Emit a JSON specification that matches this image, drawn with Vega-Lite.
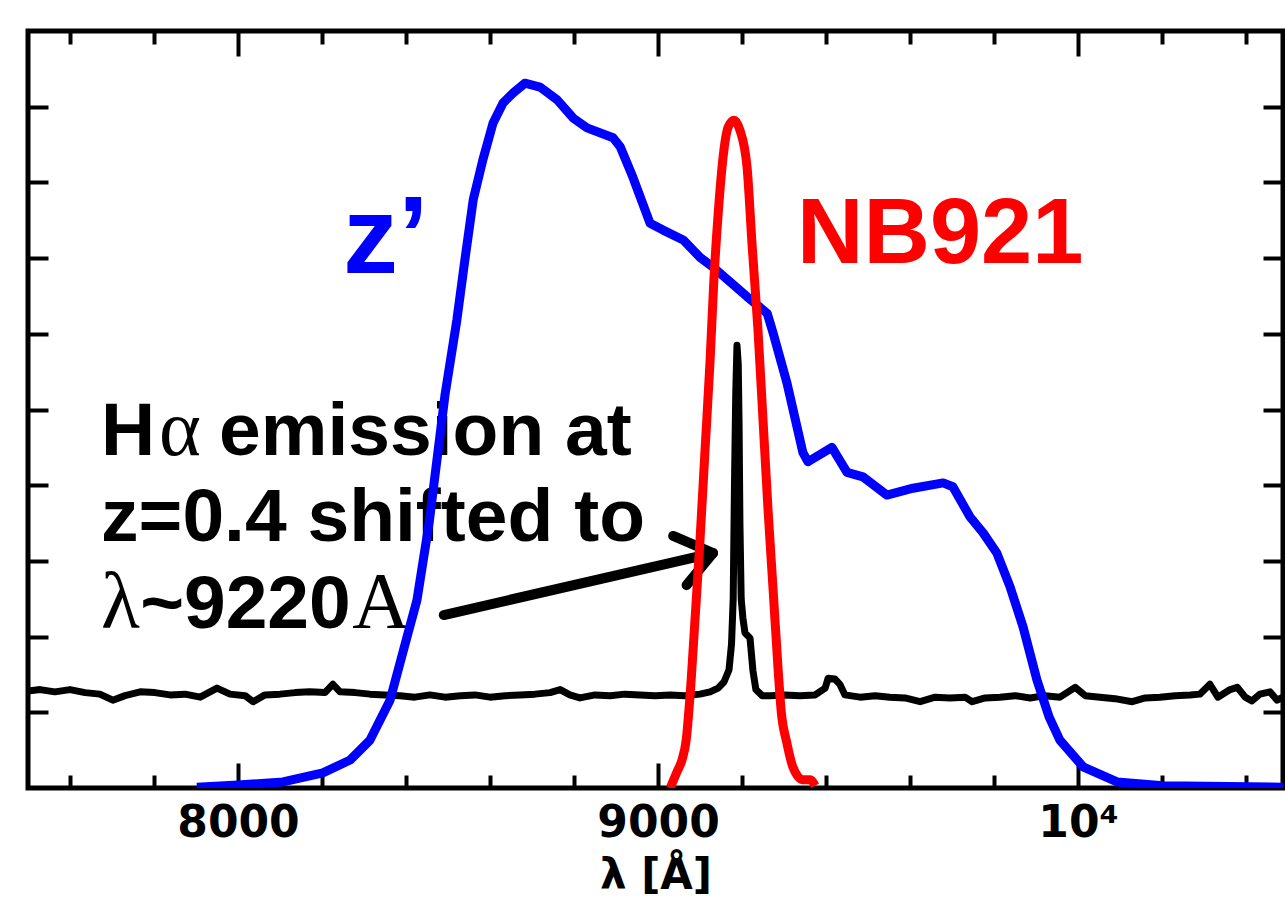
{
  "$schema": "https://vega.github.io/schema/vega-lite/v6.json",
  "width": 1255,
  "height": 757,
  "autosize": {"type": "none"},
  "padding": {"left": 28, "top": 31, "right": 2, "bottom": 112},
  "background": "white",
  "config": {
    "view": {"stroke": "black", "strokeWidth": 5},
    "axis": {"grid": false, "domain": false, "tickColor": "black", "tickWidth": 4, "labelColor": "black", "titleColor": "black"}
  },
  "datasets": {
    "spectrum": [
      {"wl": 7500, "f": 1.28}, {"wl": 7529, "f": 1.30}, {"wl": 7564, "f": 1.27}, {"wl": 7600, "f": 1.30},
      {"wl": 7636, "f": 1.26}, {"wl": 7671, "f": 1.24}, {"wl": 7702, "f": 1.16}, {"wl": 7731, "f": 1.22},
      {"wl": 7767, "f": 1.27}, {"wl": 7802, "f": 1.26}, {"wl": 7838, "f": 1.23}, {"wl": 7874, "f": 1.24},
      {"wl": 7910, "f": 1.20}, {"wl": 7950, "f": 1.32}, {"wl": 7981, "f": 1.24}, {"wl": 8017, "f": 1.22},
      {"wl": 8036, "f": 1.14}, {"wl": 8064, "f": 1.23}, {"wl": 8100, "f": 1.24}, {"wl": 8136, "f": 1.26},
      {"wl": 8171, "f": 1.27}, {"wl": 8207, "f": 1.26}, {"wl": 8226, "f": 1.37}, {"wl": 8243, "f": 1.27},
      {"wl": 8279, "f": 1.26}, {"wl": 8314, "f": 1.24}, {"wl": 8350, "f": 1.23}, {"wl": 8386, "f": 1.22},
      {"wl": 8421, "f": 1.20}, {"wl": 8457, "f": 1.23}, {"wl": 8493, "f": 1.20}, {"wl": 8529, "f": 1.22},
      {"wl": 8564, "f": 1.23}, {"wl": 8600, "f": 1.20}, {"wl": 8636, "f": 1.22}, {"wl": 8671, "f": 1.23},
      {"wl": 8707, "f": 1.24}, {"wl": 8743, "f": 1.26}, {"wl": 8767, "f": 1.30}, {"wl": 8790, "f": 1.23},
      {"wl": 8814, "f": 1.19}, {"wl": 8850, "f": 1.23}, {"wl": 8886, "f": 1.22}, {"wl": 8921, "f": 1.24},
      {"wl": 8957, "f": 1.23}, {"wl": 8993, "f": 1.22}, {"wl": 9029, "f": 1.23}, {"wl": 9064, "f": 1.22},
      {"wl": 9100, "f": 1.24}, {"wl": 9124, "f": 1.27}, {"wl": 9143, "f": 1.32}, {"wl": 9157, "f": 1.40},
      {"wl": 9169, "f": 1.56}, {"wl": 9175, "f": 1.90}, {"wl": 9179, "f": 2.50}, {"wl": 9182, "f": 4.00},
      {"wl": 9185, "f": 5.20}, {"wl": 9188, "f": 5.85}, {"wl": 9191, "f": 5.60}, {"wl": 9193, "f": 4.80},
      {"wl": 9195, "f": 3.50}, {"wl": 9198, "f": 2.50}, {"wl": 9202, "f": 2.25},
      {"wl": 9207, "f": 2.05}, {"wl": 9219, "f": 1.98}, {"wl": 9226, "f": 1.55}, {"wl": 9233, "f": 1.30},
      {"wl": 9248, "f": 1.22}, {"wl": 9267, "f": 1.22}, {"wl": 9302, "f": 1.23}, {"wl": 9338, "f": 1.22},
      {"wl": 9374, "f": 1.23}, {"wl": 9398, "f": 1.32}, {"wl": 9405, "f": 1.45}, {"wl": 9421, "f": 1.44},
      {"wl": 9433, "f": 1.37}, {"wl": 9445, "f": 1.23}, {"wl": 9481, "f": 1.20}, {"wl": 9517, "f": 1.22},
      {"wl": 9552, "f": 1.20}, {"wl": 9588, "f": 1.19}, {"wl": 9624, "f": 1.14}, {"wl": 9660, "f": 1.20},
      {"wl": 9695, "f": 1.19}, {"wl": 9731, "f": 1.20}, {"wl": 9748, "f": 1.14}, {"wl": 9779, "f": 1.19},
      {"wl": 9814, "f": 1.20}, {"wl": 9850, "f": 1.22}, {"wl": 9886, "f": 1.19}, {"wl": 9921, "f": 1.22},
      {"wl": 9957, "f": 1.20}, {"wl": 9993, "f": 1.33}, {"wl": 10017, "f": 1.22}, {"wl": 10052, "f": 1.20},
      {"wl": 10088, "f": 1.18}, {"wl": 10129, "f": 1.14}, {"wl": 10160, "f": 1.19}, {"wl": 10195, "f": 1.20},
      {"wl": 10231, "f": 1.22}, {"wl": 10267, "f": 1.23}, {"wl": 10290, "f": 1.24}, {"wl": 10314, "f": 1.37},
      {"wl": 10333, "f": 1.20}, {"wl": 10362, "f": 1.30}, {"wl": 10379, "f": 1.33}, {"wl": 10398, "f": 1.20},
      {"wl": 10414, "f": 1.15}, {"wl": 10433, "f": 1.24}, {"wl": 10457, "f": 1.27}, {"wl": 10474, "f": 1.16},
      {"wl": 10488, "f": 1.20}
    ],
    "zprime": [
      {"wl": 7902, "f": 0.01}, {"wl": 8000, "f": 0.04}, {"wl": 8107, "f": 0.08}, {"wl": 8202, "f": 0.20},
      {"wl": 8267, "f": 0.37}, {"wl": 8314, "f": 0.63}, {"wl": 8362, "f": 1.16}, {"wl": 8405, "f": 2.05},
      {"wl": 8426, "f": 2.48}, {"wl": 8455, "f": 3.50}, {"wl": 8493, "f": 5.20}, {"wl": 8521, "f": 6.18},
      {"wl": 8540, "f": 6.97}, {"wl": 8560, "f": 7.77}, {"wl": 8583, "f": 8.30}, {"wl": 8607, "f": 8.78},
      {"wl": 8631, "f": 9.05}, {"wl": 8655, "f": 9.18}, {"wl": 8683, "f": 9.31}, {"wl": 8719, "f": 9.26},
      {"wl": 8760, "f": 9.09}, {"wl": 8798, "f": 8.85}, {"wl": 8831, "f": 8.72}, {"wl": 8893, "f": 8.59},
      {"wl": 8910, "f": 8.47}, {"wl": 8940, "f": 8.07}, {"wl": 8981, "f": 7.46}, {"wl": 9012, "f": 7.37},
      {"wl": 9060, "f": 7.24}, {"wl": 9100, "f": 7.01}, {"wl": 9131, "f": 6.88}, {"wl": 9212, "f": 6.49},
      {"wl": 9260, "f": 6.27}, {"wl": 9274, "f": 6.01}, {"wl": 9307, "f": 5.35}, {"wl": 9345, "f": 4.43},
      {"wl": 9357, "f": 4.31}, {"wl": 9414, "f": 4.50}, {"wl": 9450, "f": 4.17}, {"wl": 9488, "f": 4.11},
      {"wl": 9545, "f": 3.87}, {"wl": 9607, "f": 3.96}, {"wl": 9679, "f": 4.03}, {"wl": 9702, "f": 3.98},
      {"wl": 9743, "f": 3.58}, {"wl": 9774, "f": 3.37}, {"wl": 9807, "f": 3.10}, {"wl": 9838, "f": 2.66},
      {"wl": 9869, "f": 2.13}, {"wl": 9902, "f": 1.43}, {"wl": 9931, "f": 0.94}, {"wl": 9957, "f": 0.63},
      {"wl": 10012, "f": 0.28}, {"wl": 10093, "f": 0.08}, {"wl": 10202, "f": 0.03}, {"wl": 10488, "f": 0.01}
    ],
    "nb921": [
      {"wl": 9029, "f": 0.0}, {"wl": 9045, "f": 0.21}, {"wl": 9057, "f": 0.37}, {"wl": 9067, "f": 0.63},
      {"wl": 9076, "f": 1.20}, {"wl": 9088, "f": 2.22}, {"wl": 9100, "f": 3.28}, {"wl": 9112, "f": 4.47},
      {"wl": 9124, "f": 5.65}, {"wl": 9133, "f": 6.71}, {"wl": 9143, "f": 7.57}, {"wl": 9155, "f": 8.34},
      {"wl": 9167, "f": 8.73}, {"wl": 9181, "f": 8.82}, {"wl": 9195, "f": 8.69}, {"wl": 9212, "f": 8.20},
      {"wl": 9224, "f": 7.17}, {"wl": 9238, "f": 6.05}, {"wl": 9250, "f": 4.86}, {"wl": 9262, "f": 3.67},
      {"wl": 9274, "f": 2.62}, {"wl": 9286, "f": 1.56}, {"wl": 9293, "f": 1.03}, {"wl": 9307, "f": 0.59},
      {"wl": 9321, "f": 0.28}, {"wl": 9345, "f": 0.11}, {"wl": 9362, "f": 0.11}, {"wl": 9374, "f": 0.03}
    ],
    "arrow": [
      {"part": "shaft", "o": 1, "wl": 8490, "f": 2.285},
      {"part": "shaft", "o": 2, "wl": 9131, "f": 3.104},
      {"part": "head", "o": 1, "wl": 9036, "f": 3.33},
      {"part": "head", "o": 2, "wl": 9131, "f": 3.104},
      {"part": "head", "o": 3, "wl": 9068, "f": 2.68}
    ]
  },
  "layer": [
    {
      "data": {"values": [
        {"wl": 7674, "f": 4.40, "label": "H"},
        {"wl": 7955, "f": 4.40, "label": "emission at"},
        {"wl": 7674, "f": 3.26, "label": "z=0.4 shifted to"},
        {"wl": 7767, "f": 2.11, "label": "~9220"}
      ]},
      "mark": {"type": "text", "align": "left", "baseline": "alphabetic", "font": "Liberation Sans", "fontWeight": "bold", "fontSize": 75, "color": "black"},
      "encoding": {
        "x": {"field": "wl", "type": "quantitative", "scale": {"domain": [7500, 10488], "nice": false, "zero": false}, "axis": null},
        "y": {"field": "f", "type": "quantitative", "scale": {"domain": [0, 10], "nice": false}, "axis": null},
        "text": {"field": "label"}
      }
    },
    {
      "data": {"values": [
        {"wl": 7812, "f": 4.40, "label": "α"},
        {"wl": 7674, "f": 2.11, "label": "λ"},
        {"wl": 8272, "f": 2.11, "label": "A"}
      ]},
      "mark": {"type": "text", "align": "left", "baseline": "alphabetic", "font": "Liberation Serif", "fontWeight": "normal", "fontSize": 80, "color": "black"},
      "encoding": {
        "x": {"field": "wl", "type": "quantitative", "axis": null},
        "y": {"field": "f", "type": "quantitative", "axis": null},
        "text": {"field": "label"}
      }
    },
    {
      "data": {"values": [{"wl": 8250, "f": 6.80, "label": "z’"}]},
      "mark": {"type": "text", "align": "left", "baseline": "alphabetic", "font": "Liberation Sans", "fontWeight": "bold", "fontSize": 110, "color": "#0000FF"},
      "encoding": {
        "x": {"field": "wl", "type": "quantitative", "axis": null},
        "y": {"field": "f", "type": "quantitative", "axis": null},
        "text": {"field": "label"}
      }
    },
    {
      "data": {"values": [{"wl": 9331, "f": 6.94, "label": "NB921"}]},
      "mark": {"type": "text", "align": "left", "baseline": "alphabetic", "font": "Liberation Sans", "fontWeight": "bold", "fontSize": 92, "color": "#FF0000"},
      "encoding": {
        "x": {"field": "wl", "type": "quantitative", "axis": null},
        "y": {"field": "f", "type": "quantitative", "axis": null},
        "text": {"field": "label"}
      }
    },
    {
      "data": {"name": "arrow"},
      "mark": {"type": "line", "color": "black", "strokeWidth": 10, "strokeCap": "round", "strokeJoin": "round"},
      "encoding": {
        "x": {"field": "wl", "type": "quantitative", "axis": null},
        "y": {"field": "f", "type": "quantitative", "axis": null},
        "detail": {"field": "part"},
        "order": {"field": "o"}
      }
    },
    {
      "data": {"name": "spectrum"},
      "mark": {"type": "line", "color": "black", "strokeWidth": 7, "strokeJoin": "round", "clip": true},
      "encoding": {
        "x": {
          "field": "wl", "type": "quantitative",
          "axis": {
            "orient": "bottom",
            "values": [7600, 7800, 8000, 8200, 8400, 8600, 8800, 9000, 9200, 9400, 9600, 9800, 10000, 10200, 10400],
            "tickSize": {"condition": {"test": "datum.value % 1000 === 0", "value": -25}, "value": -13},
            "format": "d",
            "labelExpr": "datum.value === 10000 ? '10⁴' : (datum.value % 1000 === 0 ? datum.label : '')",
            "labelFont": "DejaVu Sans", "labelFontWeight": "bold", "labelFontSize": 44,
            "labelPadding": 38, "labelFlush": false, "labelOverlap": false, "labelBound": false,
            "title": "λ [Å]", "titleFont": "DejaVu Sans", "titleFontWeight": "bold", "titleFontSize": 42, "titlePadding": -2
          }
        },
        "y": {
          "field": "f", "type": "quantitative",
          "axis": {"orient": "left", "values": [1, 2, 3, 4, 5, 6, 7, 8, 9], "tickSize": -20, "labels": false, "title": null}
        }
      }
    },
    {
      "data": {"name": "zprime"},
      "mark": {"type": "line", "color": "#0000FF", "strokeWidth": 9, "strokeJoin": "round", "clip": true},
      "encoding": {
        "x": {
          "field": "wl", "type": "quantitative",
          "axis": {
            "orient": "top",
            "values": [7600, 7800, 8000, 8200, 8400, 8600, 8800, 9000, 9200, 9400, 9600, 9800, 10000, 10200, 10400],
            "tickSize": {"condition": {"test": "datum.value % 1000 === 0", "value": -25}, "value": -13},
            "labels": false, "title": null
          }
        },
        "y": {
          "field": "f", "type": "quantitative",
          "axis": {"orient": "right", "values": [1, 2, 3, 4, 5, 6, 7, 8, 9], "tickSize": -20, "labels": false, "title": null}
        }
      }
    },
    {
      "data": {"name": "nb921"},
      "mark": {"type": "line", "color": "#FF0000", "strokeWidth": 9, "strokeJoin": "round", "interpolate": "monotone", "clip": true},
      "encoding": {
        "x": {"field": "wl", "type": "quantitative", "axis": null},
        "y": {"field": "f", "type": "quantitative", "axis": null}
      }
    }
  ],
  "resolve": {"axis": {"x": "independent", "y": "independent"}}
}
